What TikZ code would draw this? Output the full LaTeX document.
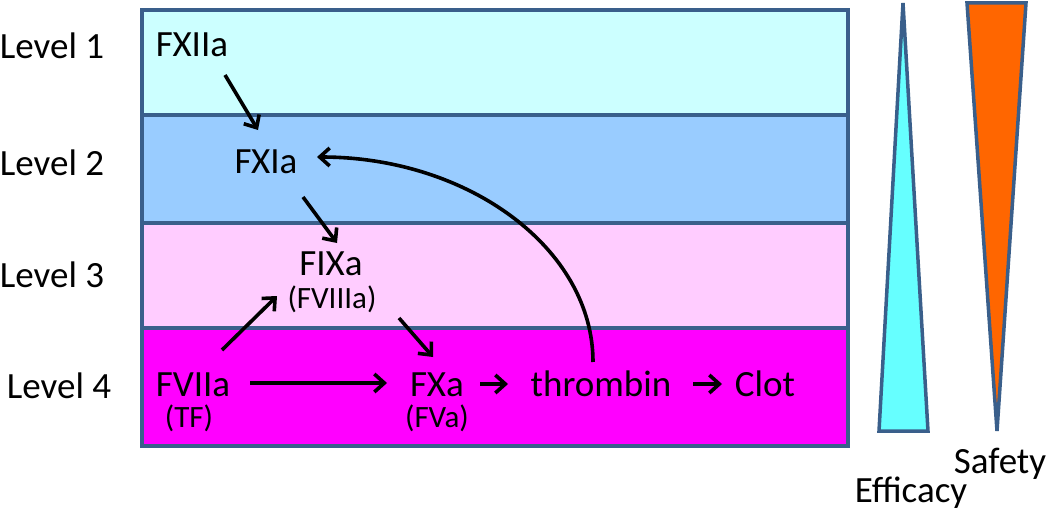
\documentclass[tikz,border=0pt]{standalone}
\usepackage{fontspec}
\setmainfont{Carlito}
\usetikzlibrary{arrows.meta}
\definecolor{edgeblue}{HTML}{3A5F8B}
\definecolor{lvlone}{HTML}{CCFFFF}
\definecolor{lvltwo}{HTML}{99CCFF}
\definecolor{lvlthree}{HTML}{FFCCFF}
\definecolor{lvlfour}{HTML}{FF00FF}
\definecolor{effcol}{HTML}{66FFFF}
\definecolor{safcol}{HTML}{FF6600}
\tikzset{
  big/.style={font=\fontsize{37}{37}\selectfont, inner sep=0pt, anchor=base},
  small/.style={font=\fontsize{31}{31}\selectfont, inner sep=0pt, anchor=base},
  arr/.style={line width=3.6pt, black, -{Straight Barb[length=10pt,width=18pt,line width=3.6pt]}},
  band/.style={draw=edgeblue, line width=3.5pt},
  tri/.style={draw=edgeblue, line width=3.5pt, line join=miter}
}
\begin{document}
\begin{tikzpicture}[x=1pt,y=-1pt]
\useasboundingbox (0,0) rectangle (1050,511);
% bands
\fill[lvlone] (142,10) rectangle (848,115);
\fill[lvltwo] (142,115) rectangle (848,223);
\fill[lvlthree] (142,223) rectangle (848,328);
\fill[lvlfour] (142,328) rectangle (848,446);
\draw[band] (142,115) -- (848,115);
\draw[band] (142,223) -- (848,223);
\draw[band] (142,328) -- (848,328);
\draw[band] (142,10) rectangle (848,446);
% triangles
\draw[tri, fill=effcol] (903,3) -- (928,431) -- (879,431) -- cycle;
\draw[tri, fill=safcol] (967,3) -- (1026,3) -- (997,431) -- cycle;
% level labels
\node[big] (l1) at (52,59) {Level 1};
\node[big] (l2) at (52,175) {Level 2};
\node[big] (l3) at (52,287) {Level 3};
\node[big] (l4) at (59,398) {Level 4};
% factors
\node[big] (fxiia) at (192,57) {FXIIa};
\node[big] (fxia) at (266,173) {FXIa};
\node[big] (fixa) at (331,275) {FIXa};
\node[small] (fviiia) at (332,308) {(FVIIIa)};
\node[big] (fviia) at (193,396) {FVIIa};
\node[small] (tf) at (189,427) {(TF)};
\node[big] (fxa) at (437,396) {FXa};
\node[small] (fva) at (437,427) {(FVa)};
\node[big] (thr) at (601,396) {thrombin};
\node[big] (clot) at (765,396) {Clot};
\node[big] (eff) at (911,502) {Efficacy};
\node[big] (saf) at (1000,473) {Safety};
% arrows
\draw[arr] ([shift={(33,18)}]fxiia.base) -- ([shift={(-8,-43)}]fxia.base);
\draw[arr] ([shift={(37,24)}]fxia.base) -- ([shift={(6,-32)}]fixa.base);
\draw[arr] ([shift={(29,-46)}]fviia.base) -- ([shift={(-54,21)}]fixa.base);
\draw[arr] ([shift={(67,10)}]fviiia.base) -- ([shift={(-4,-39)}]fxa.base);
\draw[arr] ([shift={(57,-13)}]fviia.base) -- ([shift={(-50,-13)}]fxa.base);
\draw[arr] ([shift={(43,-12)}]fxa.base) -- ([shift={(-93,-12)}]thr.base);
\draw[arr] ([shift={(92,-12)}]thr.base) -- ([shift={(-43,-12)}]clot.base);
\draw[arr] ([shift={(-8,-34)}]thr.base) .. controls +(0,-113) and +(152,0) .. ([shift={(51,-16)}]fxia.base);
\end{tikzpicture}
\end{document}
